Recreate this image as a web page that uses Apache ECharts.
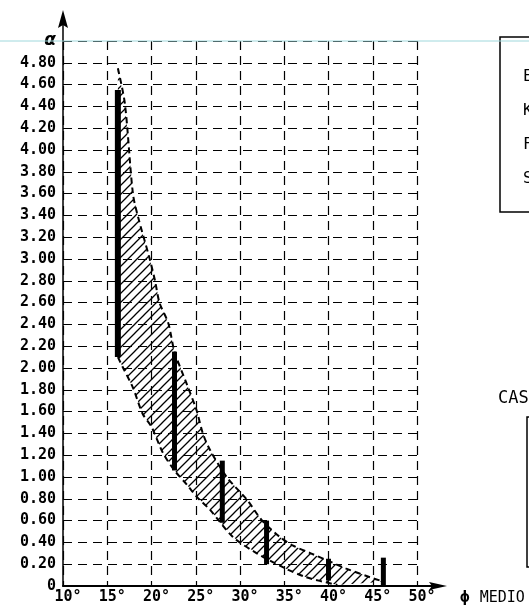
<!DOCTYPE html>
<html><head><meta charset="utf-8">
<script src="https://cdn.jsdelivr.net/npm/echarts@6/dist/echarts.min.js"></script>
<style>html,body{margin:0;padding:0;background:#fff}#c{width:529px;height:610px}</style>
</head><body><div id="c"></div><script>
// ---- data ----
const phiTicks = [10, 15, 20, 25, 30, 35, 40, 45, 50];
const alphaMax = 5.0;
const upperPhi   = [16.2, 17.0, 17.9, 18.5, 19.8, 20.4, 20.9, 21.9, 22.6, 24.0, 25.1, 25.8, 26.6, 28.5, 30.8, 32.5, 34.5, 36.0, 38.0, 40.0, 42.0, 44.7, 46.2];
const upperAlpha = [4.75, 4.42, 3.60, 3.38, 3.00, 2.80, 2.60, 2.41, 2.15, 1.85, 1.61, 1.40, 1.25, 1.00, 0.79, 0.60, 0.45, 0.37, 0.30, 0.23, 0.16, 0.08, 0.04];
const lowerPhi   = [16.2, 16.8, 17.9, 19.0, 20.0, 21.3, 22.6, 24.0, 25.1, 26.6, 29.2, 31.9, 34.9, 37.5, 41.0];
const lowerAlpha = [2.10, 2.00, 1.82, 1.58, 1.46, 1.22, 1.06, 0.93, 0.82, 0.70, 0.45, 0.30, 0.17, 0.08, 0.01];
const barPhi  = [16.2, 22.6, 28.0, 33.0, 40.0, 46.2];
const barLow  = [2.10, 1.06, 0.58, 0.20, 0.05, 0.00];
const barHigh = [4.55, 2.15, 1.15, 0.60, 0.25, 0.26];
const legendLetters = ['E', 'K', 'F', 'S'];

// ---- hatch pattern ----
function hatch() {
  const s = 9, c = document.createElement('canvas');
  c.width = s; c.height = s;
  const g = c.getContext('2d');
  g.strokeStyle = '#000'; g.lineWidth = 1.3;
  g.beginPath();
  g.moveTo(0, s); g.lineTo(s, 0);
  g.moveTo(-2, 2); g.lineTo(2, -2);
  g.moveTo(s - 2, s + 2); g.lineTo(s + 2, s - 2);
  g.stroke();
  return c;
}
const pattern = { image: hatch(), repeat: 'repeat' };

const chart = echarts.init(document.getElementById('c'), null, { renderer: 'canvas' });
const FONT = '"DejaVu Sans Mono", monospace';

const upperData = upperPhi.map((p, i) => [p, upperAlpha[i]]);
const lowerData = lowerPhi.map((p, i) => [p, lowerAlpha[i]]);
const barData = barPhi.map((p, i) => [p, barLow[i], barHigh[i]]);

chart.setOption({
  animation: false,
  backgroundColor: '#fff',
  grid: { left: 63, right: 112, top: 41, bottom: 24 },
  xAxis: {
    type: 'value', min: phiTicks[0], max: phiTicks[phiTicks.length - 1], interval: 5,
    axisLine: { show: true, onZero: false, lineStyle: { color: '#000', width: 2 } },
    axisTick: { show: false },
    axisLabel: {
      color: '#000', fontFamily: FONT, fontWeight: 'bold', fontSize: 15, margin: 4,
      padding: [0, 0, 0, 10],
      formatter: v => v + '°'
    },
    splitLine: { show: true, lineStyle: { color: '#000', width: 1.2, type: [9, 6] } },
    name: '{p|ϕ}{m|MEDIO}', nameLocation: 'end', nameGap: 43,
    nameTextStyle: {
      verticalAlign: 'top', padding: [4, 0, 0, 0], align: 'left',
      rich: {
        p: { fontFamily: FONT, fontWeight: 'bold', fontSize: 16, color: '#000', padding: [0, 10, 0, 0] },
        m: { fontFamily: FONT, fontSize: 15, color: '#000' }
      }
    }
  },
  yAxis: {
    type: 'value', min: 0, max: alphaMax, interval: 0.2,
    axisLine: { show: true, onZero: false, lineStyle: { color: '#000', width: 1.5 } },
    axisTick: { show: false },
    axisLabel: {
      color: '#000', fontFamily: FONT, fontWeight: 'bold', fontSize: 15, margin: 7,
      formatter: v => v === 0 ? '0' : (v >= alphaMax - 0.001 ? '{a|α}' : v.toFixed(2)),
      rich: { a: { fontFamily: 'DejaVu Sans', fontWeight: 'bold', fontStyle: 'italic', fontSize: 17, color: '#000' } }
    },
    splitLine: { show: true, lineStyle: { color: '#000', width: 1.2, type: [9, 6] } }
  },
  series: [
    {
      type: 'custom', name: 'band', z: 2,
      data: [0],
      renderItem: function (params, api) {
        const pts = upperData.map(d => api.coord(d))
          .concat(lowerData.slice().reverse().map(d => api.coord(d)));
        return { type: 'polygon', shape: { points: pts }, style: { fill: pattern, stroke: null } };
      }
    },
    {
      type: 'line', name: 'upper', z: 3, data: upperData, smooth: 0.3, showSymbol: false,
      lineStyle: { color: '#000', width: 2, type: [6, 4] }
    },
    {
      type: 'line', name: 'lower', z: 3, data: lowerData, smooth: 0.3, showSymbol: false,
      lineStyle: { color: '#000', width: 2, type: [6, 4] }
    },
    {
      type: 'custom', name: 'bars', z: 4, data: barData,
      renderItem: function (params, api) {
        const a = api.coord([api.value(0), api.value(1)]);
        const b = api.coord([api.value(0), api.value(2)]);
        return {
          type: 'line', shape: { x1: a[0], y1: a[1], x2: b[0], y2: b[1] },
          style: { stroke: '#000', lineWidth: params.dataIndex === 0 ? 6 : 5 }
        };
      }
    }
  ]
});

// ---- decorations: axis arrows, scan line, cut-off boxes ----
const o = chart.convertToPixel({ gridIndex: 0 }, [phiTicks[0], 0]);
const t = chart.convertToPixel({ gridIndex: 0 }, [phiTicks[phiTicks.length - 1], alphaMax]);
const x0 = o[0], y0 = o[1], x1 = t[0], y1 = t[1];
chart.setOption({
  graphic: [
    { type: 'line', shape: { x1: 0, y1: y1, x2: 529, y2: y1 }, style: { stroke: '#9fd8dc', lineWidth: 1 }, z: 1 },
    { type: 'line', shape: { x1: x0, y1: y1, x2: x0, y2: y1 - 20 }, style: { stroke: '#000', lineWidth: 1.5 } },
    { type: 'polygon', shape: { points: [[x0, y1 - 31], [x0 - 5, y1 - 13], [x0, y1 - 16], [x0 + 5, y1 - 13]] }, style: { fill: '#000' } },
    { type: 'line', shape: { x1: x1, y1: y0, x2: x1 + 16, y2: y0 }, style: { stroke: '#000', lineWidth: 2 } },
    { type: 'polygon', shape: { points: [[x1 + 30, y0], [x1 + 12, y0 - 4], [x1 + 15, y0], [x1 + 12, y0 + 4]] }, style: { fill: '#000' } },
    { type: 'rect', shape: { x: 500, y: 37, width: 40, height: 175 }, style: { fill: null, stroke: '#000', lineWidth: 1.5 } },
    ...legendLetters.map((L, i) => ({
      type: 'text', x: 523, y: 77 + i * 34,
      style: { text: L, fill: '#000', font: '16px ' + FONT, verticalAlign: 'middle' }
    })),
    { type: 'text', x: 498, y: 399, style: { text: 'CAS', fill: '#000', font: '17px ' + FONT, verticalAlign: 'middle' } },
    { type: 'rect', shape: { x: 527, y: 417, width: 20, height: 150 }, style: { fill: null, stroke: '#000', lineWidth: 1.5 } }
  ]
});
</script></body></html>
